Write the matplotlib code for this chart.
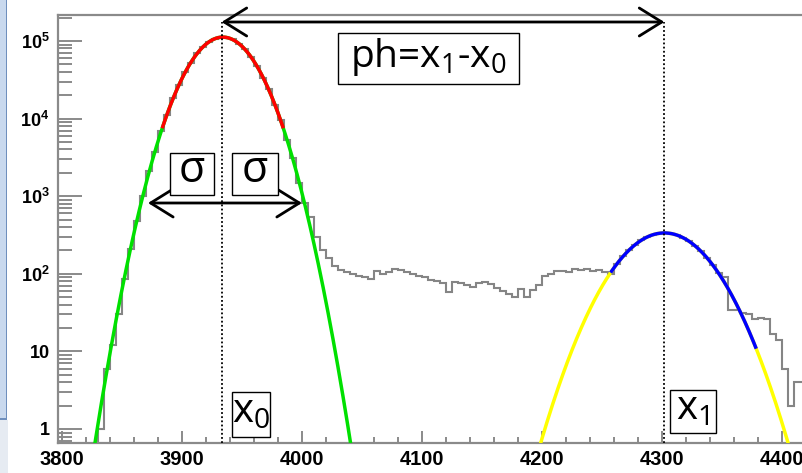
import numpy as np
import matplotlib
matplotlib.use("Agg")
import matplotlib.pyplot as plt
from matplotlib.patches import Rectangle
from matplotlib.ticker import FixedLocator, LogLocator, NullFormatter, MultipleLocator

plt.rcParams['mathtext.fontset'] = 'custom'
plt.rcParams['mathtext.rm'] = 'Open Sans'
plt.rcParams['mathtext.it'] = 'Open Sans'
plt.rcParams['mathtext.bf'] = 'Liberation Sans:bold'

# ---------------- data ----------------
bin_start = 3800
bin_width = 5
counts = [0, 0, 0, 0, 0, 0,                              # 3800-3825
          1, 6, 12, 30, 85, 210, 480, 1000, 2100, 3700,  # 3830-3875
          6900, 11000, 18500, 27000, 39800, 52500, 69500, 83000, 98000, 106000,  # 3880-3925
          112000, 110000, 104500, 91500, 78500, 61800, 47900, 33600, 23700, 14800,  # 3930-3975
          9500, 5300, 3100, 1500, 820, 540, 300, 205, 160, 125,  # 3980-4025
          113, 105, 100, 95, 92, 86, 110, 100, 106, 116,          # 4030-4075
          112, 104, 100, 94, 92, 84, 80, 77, 58, 78,               # 4080-4125
          75, 71, 68, 75, 78, 74, 66, 60, 55, 50,                  # 4130-4175
          64, 50, 62, 72, 95, 100, 108, 110, 106, 115,             # 4180-4225
          112, 114, 110, 112, 104, 100, 135, 172, 205, 234,        # 4230-4275
          270, 296, 320, 330, 338, 329, 318, 290, 266, 228,        # 4280-4325
          197, 160, 130, 102, 90, 34, 34, 31, 30, 26,              # 4330-4375
          27, 26, 17, 14, 6, 2, 4, 4]                              # 4380-4415

fit1_amp, fit1_mean, fit1_sigma = 1.12e5, 3934.0, 21.7
fit1_full = (3815, 4050)
fit1_range = (3884, 3984)
fit2_amp, fit2_mean, fit2_sigma = 336.0, 4302.0, 29.2
fit2_full = (4190, 4412)
fit2_range = (4258, 4378)

x_ticks = [3800, 3900, 4000, 4100, 4200, 4300, 4400]
y_ticks = [1, 10, 100, 1e3, 1e4, 1e5]
y_tick_labels = ['1', '10', r'$\mathbf{10^{2}}$', r'$\mathbf{10^{3}}$',
                 r'$\mathbf{10^{4}}$', r'$\mathbf{10^{5}}$']

# ---------------- figure ----------------
W, H = 803, 473
fig = plt.figure(figsize=(W / 100, H / 100), dpi=100)
fig.patch.set_facecolor('white')

def fx(px):
    return px / W

def fy(py):
    return 1 - py / H

# slide frame at left
fig.patches.append(Rectangle((0, fy(418)), fx(6), fy(0) - fy(418), transform=fig.transFigure,
                             facecolor='#c9d9ee', edgecolor='none', zorder=0))
fig.patches.append(Rectangle((fx(6), fy(418)), fx(1.5), fy(0) - fy(418), transform=fig.transFigure,
                             facecolor='#6f8fbd', edgecolor='none', zorder=0))
fig.patches.append(Rectangle((0, fy(419.5)), fx(7.5), 1.5 / H, transform=fig.transFigure,
                             facecolor='#6f8fbd', edgecolor='none', zorder=0))
fig.patches.append(Rectangle((0, 0), fx(8), fy(420), transform=fig.transFigure,
                             facecolor='#e6ebf2', edgecolor='none', zorder=0))

ax = fig.add_axes([fx(58), fy(443), fx(803) - fx(58), fy(15) - fy(443)])
ax.set_yscale('log')
ax.set_xlim(3796.7, 4417.5)
ax.set_ylim(0.66, 2.16e5)

axis_col = '#8a8a8a'
for s in ['left', 'bottom', 'top']:
    ax.spines[s].set_color(axis_col)
    ax.spines[s].set_linewidth(1.6)
ax.spines['right'].set_visible(False)

# histogram
edges = bin_start + bin_width * np.arange(len(counts) + 1)
ax.stairs(np.array(counts, dtype=float), edges, color='#858585', lw=1.5, zorder=2)

def gauss(x, a, m, s):
    return a * np.exp(-0.5 * ((x - m) / s) ** 2)

lw_fit = 2.5
xg = np.linspace(*fit1_full, 400)
ax.plot(xg, gauss(xg, fit1_amp, fit1_mean, fit1_sigma), color='#00e000', lw=lw_fit, zorder=3)
xr = np.linspace(*fit1_range, 200)
ax.plot(xr, gauss(xr, fit1_amp, fit1_mean, fit1_sigma), color='#ff0000', lw=lw_fit, zorder=4)
xy_ = np.linspace(*fit2_full, 400)
ax.plot(xy_, gauss(xy_, fit2_amp, fit2_mean, fit2_sigma), color='#ffff00', lw=lw_fit, zorder=3)
xb = np.linspace(*fit2_range, 200)
ax.plot(xb, gauss(xb, fit2_amp, fit2_mean, fit2_sigma), color='#0000ff', lw=lw_fit, zorder=4)

# ticks
ax.xaxis.set_major_locator(FixedLocator(x_ticks))
ax.xaxis.set_minor_locator(MultipleLocator(20))
ax.set_xticklabels([str(t) for t in x_ticks])
ax.yaxis.set_major_locator(FixedLocator(y_ticks))
ax.yaxis.set_minor_locator(LogLocator(base=10, subs=np.arange(2, 10), numticks=20))
ax.yaxis.set_minor_formatter(NullFormatter())
ax.set_yticklabels(y_tick_labels)
ax.tick_params(axis='x', which='major', direction='in', length=9, width=1.4, color=axis_col,
               pad=5, labelsize=14.5)
ax.tick_params(axis='x', which='minor', direction='in', length=4.5, width=1.4, color=axis_col)
ax.tick_params(axis='y', which='major', direction='in', length=17, width=1.4, color=axis_col,
               pad=6, labelsize=13)
ax.tick_params(axis='y', which='minor', direction='in', length=10, width=1.4, color=axis_col)
for lab in ax.get_xticklabels() + ax.get_yticklabels():
    lab.set_fontfamily('Liberation Sans')
    lab.set_fontweight('bold')

# annotations: dotted lines and arrows
xt = ax.get_xaxis_transform()
y_top_arrow = (443 - 22) / (443 - 15)
ax.plot([fit1_mean - 1, fit1_mean - 1], [0, y_top_arrow], transform=xt, color='black',
        lw=1.3, ls=(0, (1, 1.3)), zorder=5, clip_on=False)
ax.plot([fit2_mean, fit2_mean], [0, y_top_arrow], transform=xt, color='black',
        lw=1.3, ls=(0, (1, 1.3)), zorder=5, clip_on=False)

arrow_props = dict(arrowstyle='<->,head_length=0.45,head_width=0.28', lw=2.0, color='black',
                   mutation_scale=36, shrinkA=0, shrinkB=0)
ax.annotate('', xy=(fit2_mean, y_top_arrow), xytext=(fit1_mean - 1, y_top_arrow),
            xycoords=xt, textcoords=xt, arrowprops=arrow_props, zorder=6)
y_sig = (443 - 203) / (443 - 15)
ax.annotate('', xy=(4000, y_sig), xytext=(3871.7, y_sig),
            xycoords=xt, textcoords=xt, arrowprops=arrow_props, zorder=6)

# boxed labels (pixel positions)
def boxed(x0, y0, x1, y1, txt, size, dy=0.0):
    fig.patches.append(Rectangle((fx(x0), fy(y1)), fx(x1) - fx(x0), fy(y0) - fy(y1),
                                 transform=fig.transFigure, facecolor='white',
                                 edgecolor='black', lw=1.0, zorder=10))
    fig.text(fx((x0 + x1) / 2), fy((y0 + y1) / 2 + dy), txt, ha='center', va='center',
             fontsize=size, family='Open Sans', color='black', zorder=11)

boxed(338, 33, 519, 84, r'ph=x$_1$-x$_0$', 28, dy=-2)
boxed(170, 153, 214, 195, 'σ', 31, dy=-3)
boxed(232, 153, 278, 195, 'σ', 31, dy=-3)
boxed(232, 392, 270, 437, r'x$_0$', 29, dy=-2)
boxed(670, 390, 716, 433, r'x$_1$', 29, dy=-2)

fig.savefig('out.png', dpi=100)
